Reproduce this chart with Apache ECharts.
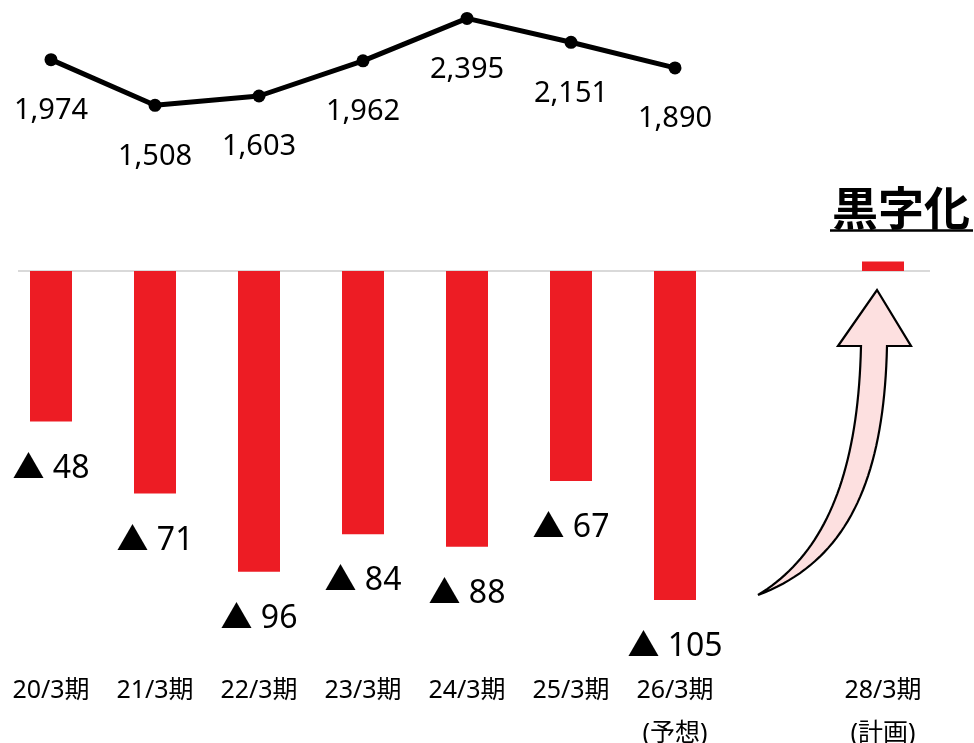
<!DOCTYPE html>
<html><head><meta charset="utf-8">
<script src="https://cdn.jsdelivr.net/npm/echarts@6/dist/echarts.min.js"></script>
<style>html,body{margin:0;padding:0;background:#fff}#c{width:974px;height:743px}</style>
</head><body><div id="c"></div>
<script>
const categories = ['20/3期','21/3期','22/3期','23/3期','24/3期','25/3期','26/3期\n(予想)','','28/3期\n(計画)'];
const lineValues = [1974,1508,1603,1962,2395,2151,1890,null,null];
const barValues = [-48,-71,-96,-84,-88,-67,-105,null,3];
const annotation = '黒字化';

const FONT = "'Noto Sans','Noto Sans CJK JP',sans-serif";
const chart = echarts.init(document.getElementById('c'));
chart.setOption({
  animation:false,
  backgroundColor:'#fff',
  grid:[
    {left:-1, width:936, top:17.9, height:88.2, containLabel:false, outerBoundsMode:'none'},
    {left:-1, width:936, top:177, height:470, containLabel:false, outerBoundsMode:'none'}
  ],
  xAxis:[
    {type:'category', gridIndex:0, data:categories, show:false},
    {type:'category', gridIndex:1, data:categories,
     axisLine:{show:false}, axisTick:{show:false},
     axisLabel:{interval:0, margin:22, color:'#000', fontSize:25, lineHeight:43, fontFamily:FONT, verticalAlign:'top'}}
  ],
  yAxis:[
    {type:'value', gridIndex:0, min:1500, max:2400, show:false},
    {type:'value', gridIndex:1, min:-120, max:30, show:false}
  ],
  series:[
    {type:'bar', xAxisIndex:1, yAxisIndex:1, data:barValues.map(v=>v===null?null:(v>0?{value:v,label:{show:false}}:v)),
     barWidth:42, itemStyle:{color:'#ED1C24'}, z:3,
     label:{show:true, position:'outside', distance:31, color:'#000', fontSize:32, lineHeight:32, fontFamily:FONT,
       formatter:p=>'▲ '+Math.abs(p.value)}},
    {type:'line', xAxisIndex:0, yAxisIndex:0, data:lineValues, symbol:'circle', symbolSize:13,
     lineStyle:{color:'#000', width:5}, itemStyle:{color:'#000'},
     label:{show:true, position:'bottom', distance:30, color:'#000', fontSize:29, lineHeight:29, fontFamily:FONT,
       formatter:p=>p.value.toLocaleString('en-US')}}
  ]
});
function bez(p0,p1,p2,p3,n){
  const out=[];
  for(let i=0;i<=n;i++){const t=i/n,u=1-t;
    out.push([u*u*u*p0[0]+3*u*u*t*p1[0]+3*u*t*t*p2[0]+t*t*t*p3[0],
              u*u*u*p0[1]+3*u*u*t*p1[1]+3*u*t*t*p2[1]+t*t*t*p3[1]]);}
  return out;
}
const leftEdge = bez([758,595],[822,556],[858,480],[861,346],40);
const rightEdge = bez([887,346],[884,482],[846,562],[758,595],40);
const arrowPts = leftEdge.concat([[838,346],[877,290],[911,346]], rightEdge);
const y0 = chart.convertToPixel({yAxisIndex:1}, 0);
chart.setOption({
  graphic:[
    {type:'line', z:1, shape:{x1:18, y1:y0, x2:930, y2:y0}, style:{stroke:'#D9D9D9', lineWidth:2}},
    {type:'text', z:10, x:901, y:208, style:{text:annotation, fill:'#000', font:"bold 46px 'Noto Sans CJK JP'", align:'center', verticalAlign:'middle'}},
    {type:'line', z:10, shape:{x1:830, y1:230.5, x2:973, y2:230.5}, style:{stroke:'#000', lineWidth:2.5}},
    {type:'polygon', z:10, shape:{points:arrowPts},
     style:{fill:'#FDE0E0', stroke:'#000', lineWidth:2.2, lineJoin:'miter'}}
  ]
});
</script></body></html>
